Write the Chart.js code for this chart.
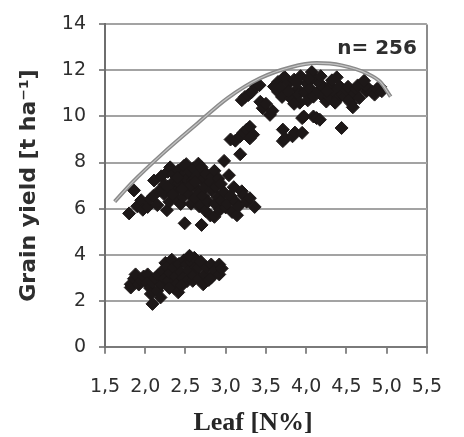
<!DOCTYPE html>
<html>
<head>
<meta charset="utf-8">
<script src="https://cdn.jsdelivr.net/npm/chart.js@4.4.1/dist/chart.umd.min.js"></script>
<style>
  html, body { margin: 0; padding: 0; background: #fff; }
  #wrap { width: 464px; height: 437px; }
</style>
</head>
<body>
<div id="wrap"><canvas id="plot" width="464" height="437"></canvas></div>
<script>
// leaf N (%) vs grain yield (t/ha), three groups of field samples
var lowGroup = [
    [1.82,2.57],[1.82,2.71],[1.86,2.95],[1.88,3.14],[1.92,2.70],[1.95,2.86],[1.98,3.05],[2.03,3.14],
    [2.02,2.78],[2.06,2.55],[2.07,2.29],[2.09,1.86],[2.09,2.79],[2.12,2.98],[2.15,2.43],[2.16,3.10],
    [2.19,2.14],[2.20,2.70],[2.21,3.29],[2.24,2.95],[2.25,3.64],[2.27,3.45],[2.29,2.86],[2.31,3.20],
    [2.33,3.78],[2.35,3.43],[2.36,2.55],[2.38,3.05],[2.39,2.71],[2.41,2.36],[2.42,3.60],[2.44,3.25],
    [2.47,3.00],[2.48,3.75],[2.51,3.57],[2.52,2.85],[2.54,3.30],[2.57,3.68],[2.59,2.86],[2.60,3.10],
    [2.61,3.86],[2.63,3.45],[2.66,3.43],[2.67,2.95],[2.69,3.70],[2.72,2.71],[2.74,3.14],[2.76,3.45],
    [2.79,2.90],[2.82,3.57],[2.82,3.00],[2.86,3.30],[2.92,3.57],[2.92,3.14],[2.95,3.40],[2.55,3.95],
    [2.45,2.65],[2.30,2.55]
];
var midGroup = [
    [1.80,5.79],[1.86,6.79],[1.90,6.10],[1.95,6.36],[1.97,5.95],[2.03,6.07],[2.06,6.40],[2.11,7.22],
    [2.10,6.55],[2.15,6.15],[2.18,6.80],[2.20,7.40],[2.23,6.64],[2.24,7.05],[2.27,5.93],[2.28,7.60],
    [2.30,6.30],[2.31,7.79],[2.33,6.95],[2.35,7.50],[2.36,7.20],[2.38,6.45],[2.39,6.79],[2.41,7.65],
    [2.42,7.10],[2.44,6.20],[2.45,7.40],[2.47,6.50],[2.48,7.85],[2.49,5.36],[2.50,6.95],[2.51,7.93],
    [2.52,7.30],[2.54,6.65],[2.55,7.60],[2.57,6.21],[2.58,7.05],[2.59,7.22],[2.60,7.75],[2.62,6.45],
    [2.63,6.90],[2.64,7.45],[2.66,7.95],[2.67,6.10],[2.68,6.70],[2.70,7.79],[2.70,6.15],[2.70,5.29],
    [2.71,7.25],[2.72,6.55],[2.74,6.93],[2.75,5.90],[2.76,7.50],[2.78,6.30],[2.80,7.15],[2.81,5.70],
    [2.82,6.80],[2.84,7.40],[2.86,7.64],[2.86,5.64],[2.87,6.20],[2.88,6.95],[2.90,6.50],[2.91,7.30],
    [2.93,5.95],[2.94,7.07],[2.95,6.35],[2.98,8.07],[2.98,6.70],[3.00,6.05],[3.02,6.21],[3.04,7.45],
    [3.06,6.55],[3.08,5.85],[3.10,6.93],[3.12,6.30],[3.14,5.71],[3.16,6.10],[3.18,8.36],[3.20,6.75],
    [3.22,6.57],[3.26,6.30],[3.30,6.45],[3.36,6.07],[2.28,6.95],[2.40,7.35],[2.56,7.00],[2.62,7.15],
    [2.46,6.85],[2.34,6.60]
];
var highGroup = [
    [3.06,9.00],[3.12,8.95],[3.18,9.14],[3.22,9.30],[3.26,9.43],[3.30,9.55],[3.34,9.21],[3.30,9.05],
    [3.20,10.71],[3.24,10.85],[3.28,10.93],[3.32,11.05],[3.38,11.30],[3.42,11.36],[3.43,10.64],[3.46,10.36],
    [3.50,10.55],[3.55,10.07],[3.58,10.25],[3.65,11.50],[3.65,11.07],[3.68,11.25],[3.70,10.85],[3.73,11.72],
    [3.71,9.43],[3.71,8.93],[3.74,9.05],[3.78,11.45],[3.81,10.79],[3.83,9.14],[3.86,9.30],[3.85,11.60],
    [3.89,11.21],[3.90,10.95],[3.93,11.75],[3.95,9.93],[3.95,9.29],[3.97,10.00],[3.98,11.05],[4.01,11.43],
    [4.02,10.70],[4.05,11.20],[4.07,11.93],[4.09,10.86],[4.09,10.00],[4.12,11.60],[4.13,9.93],[4.15,11.10],
    [4.17,11.43],[4.17,9.86],[4.20,10.90],[4.22,11.25],[4.25,10.65],[4.28,10.86],[4.30,11.35],[4.32,11.57],
    [4.35,11.05],[4.38,11.70],[4.40,10.80],[4.42,11.30],[4.44,9.50],[4.45,10.95],[4.48,10.86],[4.50,11.15],
    [4.52,11.29],[4.54,10.75],[4.56,10.57],[4.58,10.40],[4.60,11.00],[4.62,11.20],[4.64,11.35],[4.66,10.80],
    [4.70,11.43],[4.72,11.55],[4.75,11.10],[4.78,11.20],[4.82,11.07],[4.85,10.95],[4.88,11.20],[4.92,11.29],
    [4.94,11.10],[3.60,11.30],[3.78,11.10],[3.88,11.50],[4.03,11.65],[4.18,11.75],[3.92,10.60],[4.26,11.10],
    [4.36,10.60],[3.85,10.55]
];

// boundary line
var curveLeaf  = [1.62, 1.84, 2.23, 2.63, 3.02, 3.42, 3.81, 4.13, 4.44, 4.76, 4.92, 5.05];
var curveYield = [6.30, 7.14, 8.43, 9.64, 10.79, 11.65, 12.14, 12.32, 12.22, 11.86, 11.50, 10.86];

var xTicks = [1.5, 2.0, 2.5, 3.0, 3.5, 4.0, 4.5, 5.0, 5.5];
var sampleCount = 'n= 256';
var xTitle = 'Leaf [N%]';
var yTitle = 'Grain yield [t ha\u207B\u00B9]';

var toPts = function (arr) { return arr.map(function (p) { return { x: p[0], y: p[1] }; }); };
var curvePts = curveLeaf.map(function (v, i) { return { x: v, y: curveYield[i] }; });

var markColor = '#1d1818';
var tickFont = { family: 'DejaVu Sans', size: 19 };

// extra text: sample count and x-axis title
var textPlugin = {
    id: 'extraText',
    afterDraw: function (chart) {
        var c = chart.ctx, area = chart.chartArea;
        c.save();
        c.fillStyle = '#2e2e2e';
        c.font = 'bold 20px "DejaVu Sans"';
        c.textAlign = 'right';
        c.textBaseline = 'middle';
        c.fillText(sampleCount, area.right - 10, chart.scales.y.getPixelForValue(12.95));
        c.fillStyle = '#262626';
        c.font = 'bold 26px "Liberation Serif"';
        c.textAlign = 'center';
        c.fillText(xTitle, 253, 423);
        c.restore();
    }
};

var ctx = document.getElementById('plot').getContext('2d');
var chart = new Chart(ctx, {
    type: 'scatter',
    data: {
        datasets: [
            { type: 'line', data: curvePts, borderColor: '#8a8a8a', borderWidth: 4, pointRadius: 0,
              cubicInterpolationMode: 'monotone', fill: false, order: 1 },
            { type: 'line', data: curvePts, borderColor: '#c4c4c4', borderWidth: 1.2, pointRadius: 0,
              cubicInterpolationMode: 'monotone', fill: false, order: 0 },
            { data: toPts(lowGroup), order: 2 },
            { data: toPts(midGroup), order: 2 },
            { data: toPts(highGroup), order: 2 }
        ]
    },
    options: {
        responsive: false,
        animation: false,
        layout: { padding: { top: 21, right: 19, bottom: 0, left: 0 } },
        elements: {
            point: { pointStyle: 'rectRot', radius: 6.5, backgroundColor: markColor,
                     borderColor: markColor, borderWidth: 1 }
        },
        plugins: { legend: { display: false }, tooltip: { enabled: false } },
        scales: {
            x: {
                type: 'linear', min: 1.5, max: 5.5,
                afterBuildTicks: function (s) { s.ticks = xTicks.map(function (v) { return { value: v }; }); },
                afterFit: function (s) { s.height = 90.3; },
                ticks: {
                    font: tickFont, color: '#2e2e2e', padding: 22, maxRotation: 0, autoSkip: false,
                    callback: function (v) { return v.toFixed(1).replace('.', ','); }
                },
                grid: {
                    lineWidth: 2, tickLength: 7, tickColor: '#8a8a8a',
                    color: function (c) { return c.index === xTicks.length - 1 ? '#8c8c8c' : 'rgba(0,0,0,0)'; }
                },
                border: { color: '#7a7a7a', width: 2 }
            },
            y: {
                min: 0, max: 14,
                afterFit: function (s) { s.width = 105; },
                ticks: { stepSize: 2, font: tickFont, color: '#2e2e2e', padding: 13 },
                grid: { color: '#a3a3a3', lineWidth: 2, tickLength: 6, tickColor: '#8a8a8a' },
                border: { color: '#6e6e6e', width: 2 },
                title: {
                    display: true, text: yTitle, color: '#2e2e2e',
                    font: { family: 'DejaVu Sans', size: 22, weight: 'bold' },
                    padding: { top: 16, bottom: 0 }
                }
            }
        }
    },
    plugins: [textPlugin]
});
</script>
</body>
</html>
